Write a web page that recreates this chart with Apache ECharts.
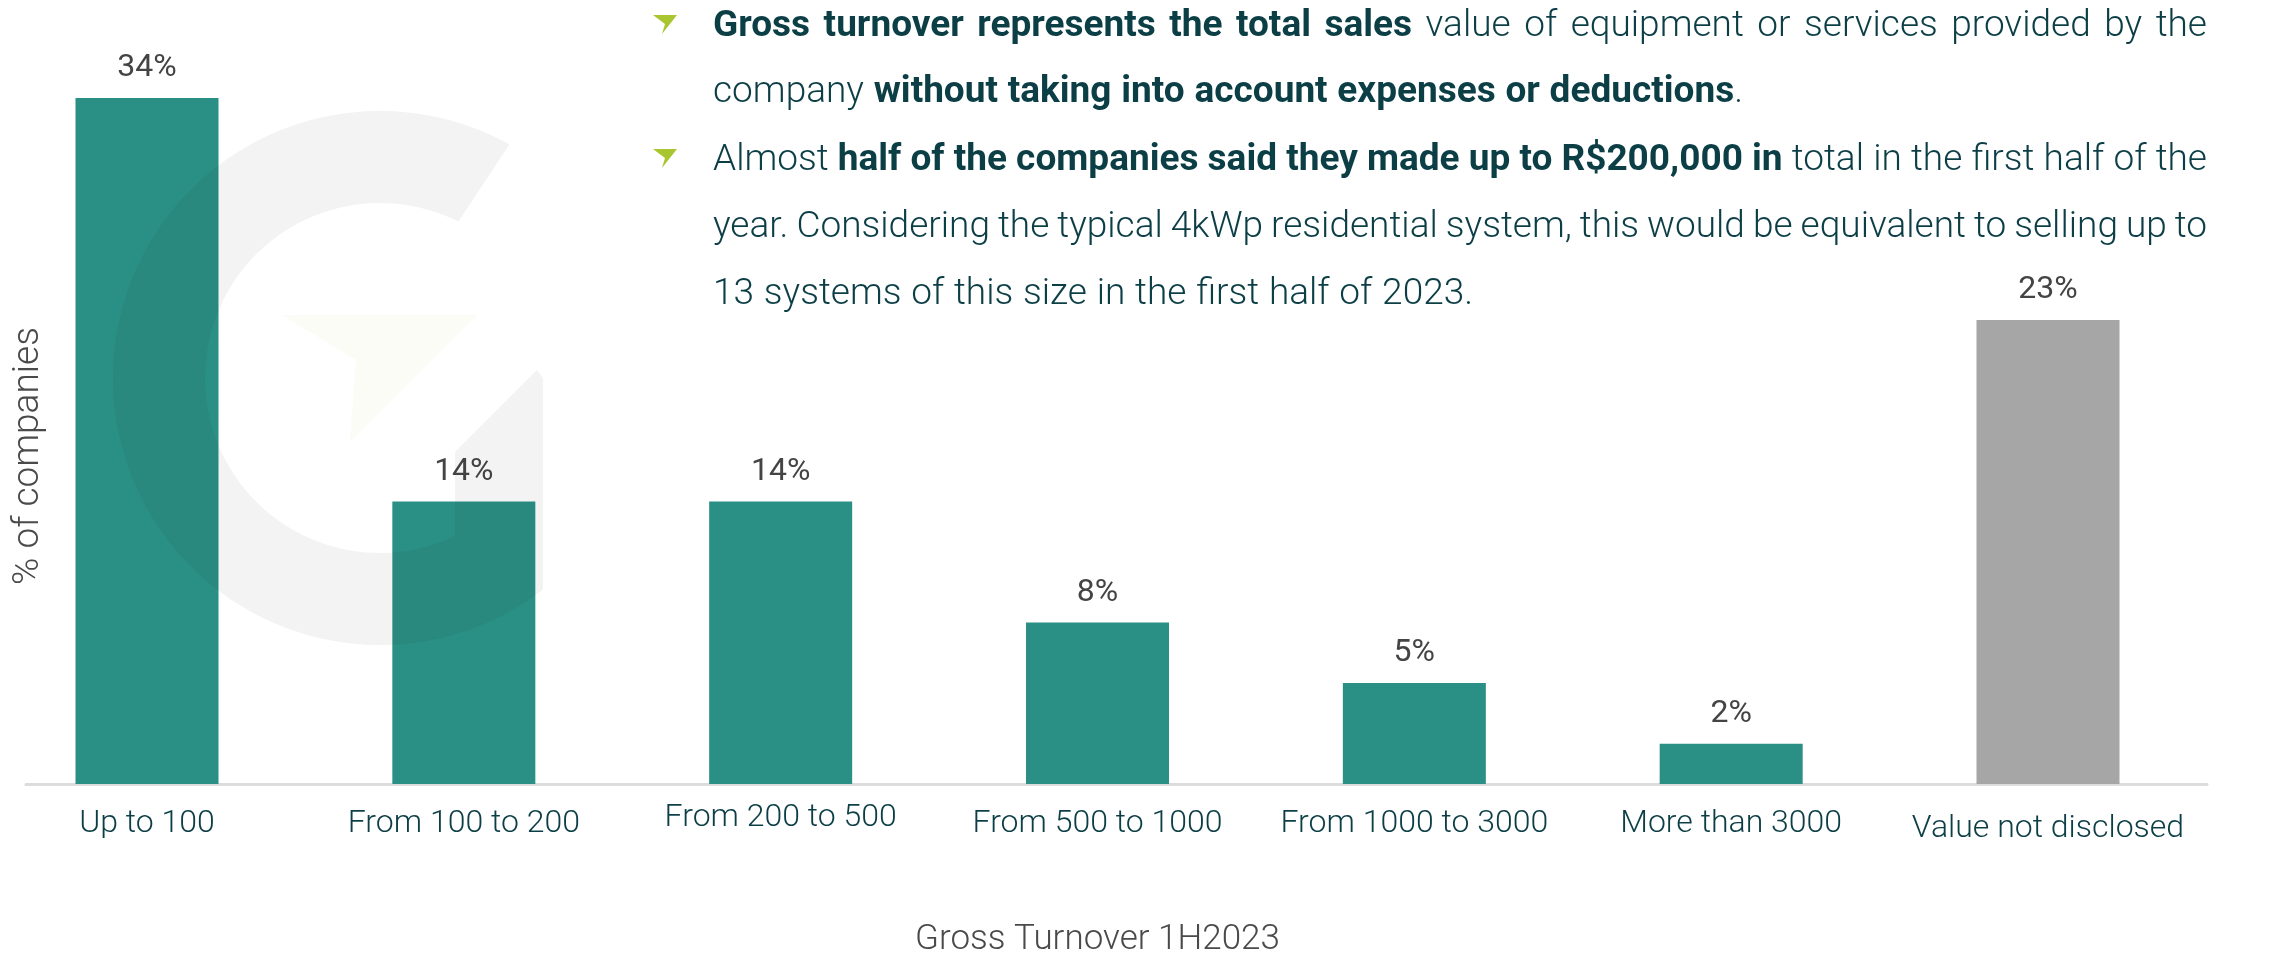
<!DOCTYPE html>
<html>
<head>
<meta charset="utf-8">
<script src="https://cdn.jsdelivr.net/npm/echarts@6/dist/echarts.min.js"></script>
<style>
html,body{margin:0;padding:0;background:#fff;}
#chart{width:2269px;height:953px;}
</style>
</head>
<body>
<div id="chart"></div>
<script>
const categories = ['Up to 100', 'From 100 to 200', 'From 200 to 500', 'From 500 to 1000', 'From 1000 to 3000', 'More than 3000', 'Value not disclosed'];
const shares = [34, 14, 14, 8, 5, 2, 23];
const undisclosedIndex = 6;
const xAxisTitle = 'Gross Turnover 1H2023';
const yAxisTitle = '% of companies';
const notes = [
  [['b', 'Gross turnover represents the total sales'], ['n', ' value of equipment or services provided by the']],
  [['n', 'company '], ['b', 'without taking into account expenses or deductions'], ['n', '.']],
  [['n', 'Almost '], ['b', 'half of the companies said they made up to R$200,000 in'], ['n', ' total in the first half of the']],
  [['n', 'year. Considering the typical 4kWp residential system, this would be equivalent to selling up to']],
  [['n', '13 systems of this size in the first half of 2023.']]
];
const justifiedLines = [0, 2, 3];
const bulletLines = [0, 2];

const TEAL = '#2a8f84';
const GREY = '#a6a6a6';
const TEXT = '#0c3e46';
const NOTE_SIZE = 37;

const chart = echarts.init(document.getElementById('chart'), null, {renderer: 'canvas'});

const barData = shares.map((v, i) => ({
  value: v,
  itemStyle: {color: i === undisclosedIndex ? GREY : TEAL}
}));

const graphics = [];

// ---- watermark "G" (single C-shaped polygon + pale arrow) ----
(function () {
  const cx = 380, cy = 378, R = 267, r0 = 175;
  const deg = Math.PI / 180;
  const stemR = 543, stemL = 455;
  const outerEnd = Math.acos((stemR - cx) / R) / deg;
  const innerStart = Math.acos((stemL - cx) / r0) / deg;
  const pts = [];
  for (let a = 299; a >= outerEnd; a -= 2) pts.push([cx + R * Math.cos(a * deg), cy + R * Math.sin(a * deg)]);
  pts.push([cx + R * Math.cos(outerEnd * deg), cy + R * Math.sin(outerEnd * deg)]);
  pts.push([stemR, 378]);
  pts.push([537, 370]);
  pts.push([stemL, 452]);
  for (let a = innerStart; a <= 298; a += 2) pts.push([cx + r0 * Math.cos(a * deg), cy + r0 * Math.sin(a * deg)]);
  graphics.push({
    type: 'polygon', z: 100, silent: true,
    shape: {points: pts},
    style: {fill: 'rgba(30,40,60,0.055)'}
  });
  graphics.push({
    type: 'polygon', z: 100, silent: true,
    shape: {points: [[282, 315], [477, 315], [350, 442], [356, 360]]},
    style: {fill: 'rgba(190,200,90,0.06)'}
  });
})();

// ---- bullets ----
const baselines = [37, 103, 171, 238, 305];
bulletLines.forEach(li => {
  const b = baselines[li];
  graphics.push({
    type: 'polygon', silent: true,
    shape: {points: [[653, b - 22], [677, b - 22], [662, b - 3], [665, b - 13]]},
    style: {fill: '#a9c52f'}
  });
});

// ---- note text (justified like the reference) ----
const fonts = {
  b: 'bold ' + NOTE_SIZE + 'px Roboto',
  n: '300 ' + NOTE_SIZE + 'px Roboto'
};
const ctx = document.createElement('canvas').getContext('2d');
function measure(style, txt) { ctx.font = fonts[style]; return ctx.measureText(txt).width; }
const LEFT = 713, RIGHT = 2207;
notes.forEach((parts, li) => {
  const words = [];
  let cur = [];
  parts.forEach(([st, txt]) => {
    const pieces = txt.split(' ');
    pieces.forEach((pc, k) => {
      if (k > 0) { if (cur.length) words.push(cur); cur = []; }
      if (pc.length) cur.push([st, pc]);
    });
  });
  if (cur.length) words.push(cur);
  const widths = words.map(w => w.reduce((s, f) => s + measure(f[0], f[1]), 0));
  const total = widths.reduce((a, b) => a + b, 0);
  let gap = measure('n', ' ') * 1.08;
  if (justifiedLines.indexOf(li) >= 0 && words.length > 1) gap = (RIGHT - LEFT - total) / (words.length - 1);
  let x = LEFT;
  words.forEach((w, wi) => {
    let fx = x;
    w.forEach(([st, txt]) => {
      graphics.push({
        type: 'text', silent: true,
        x: fx, y: baselines[li] - 10,
        style: {
          text: txt, font: fonts[st], fill: TEXT,
          fontFamily: 'Roboto', fontSize: NOTE_SIZE, fontWeight: st === 'b' ? 'bold' : 300,
          align: 'left', verticalAlign: 'middle'
        }
      });
      fx += measure(st, txt);
    });
    x += widths[wi] + gap;
  });
});

// ---- y axis title ----
graphics.push({
  type: 'text', silent: true,
  x: 29, y: 456, rotation: Math.PI / 2,
  style: {
    text: yAxisTitle, fontFamily: 'Roboto', fontWeight: 300, fontSize: 37,
    fill: '#4a4a4a', align: 'center', verticalAlign: 'middle'
  }
});

// small vertical nudges of individual category labels, as in the reference
const labelStyleKey = i => (i === 2 ? 'hi' : (i === 6 ? 'lo' : 'base'));
const catText = {color: TEXT, fontFamily: 'Roboto', fontWeight: 300, fontSize: 32};

const option = {
  animation: false,
  backgroundColor: '#ffffff',
  grid: [
    {left: 147, right: 221, top: 98, bottom: 169, containLabel: false, outerBoundsMode: 'none'},
    {left: 26, right: 62, top: 98, bottom: 169, containLabel: false, outerBoundsMode: 'none'}
  ],
  xAxis: [
    {
      type: 'category', gridIndex: 0, data: categories, boundaryGap: false,
      axisLine: {show: false}, axisTick: {show: false}, splitLine: {show: false},
      axisLabel: {
        interval: 0, margin: 18, color: TEXT,
        fontFamily: 'Roboto', fontWeight: 300, fontSize: 32,
        formatter: (v, i) => '{' + labelStyleKey(i) + '|' + v + '}',
        rich: {
          base: Object.assign({padding: [6, 0, 0, 0]}, catText),
          hi: Object.assign({padding: [0, 0, 0, 0]}, catText),
          lo: Object.assign({padding: [11, 0, 0, 0]}, catText)
        }
      },
      name: xAxisTitle, nameLocation: 'middle', nameGap: 139,
      nameTextStyle: {fontFamily: 'Roboto', fontWeight: 300, fontSize: 35, color: '#4a4a4a'}
    },
    {
      type: 'value', gridIndex: 1, min: 0, max: 1,
      axisLine: {show: true, lineStyle: {color: '#dcdcdc', width: 3}},
      axisTick: {show: false}, axisLabel: {show: false}, splitLine: {show: false}
    }
  ],
  yAxis: [
    {type: 'value', gridIndex: 0, min: 0, max: 34, show: false, splitLine: {show: false}},
    {type: 'value', gridIndex: 1, min: 0, max: 1, show: false, splitLine: {show: false}}
  ],
  series: [{
    type: 'bar', xAxisIndex: 0, yAxisIndex: 0, clip: false,
    data: barData, barWidth: 143,
    label: {
      show: true, position: 'top', distance: 14,
      formatter: p => p.value + '%',
      fontFamily: 'Roboto', fontWeight: 400, fontSize: 32, color: '#444444'
    }
  }],
  graphic: graphics
};

chart.setOption(option);
</script>
</body>
</html>
